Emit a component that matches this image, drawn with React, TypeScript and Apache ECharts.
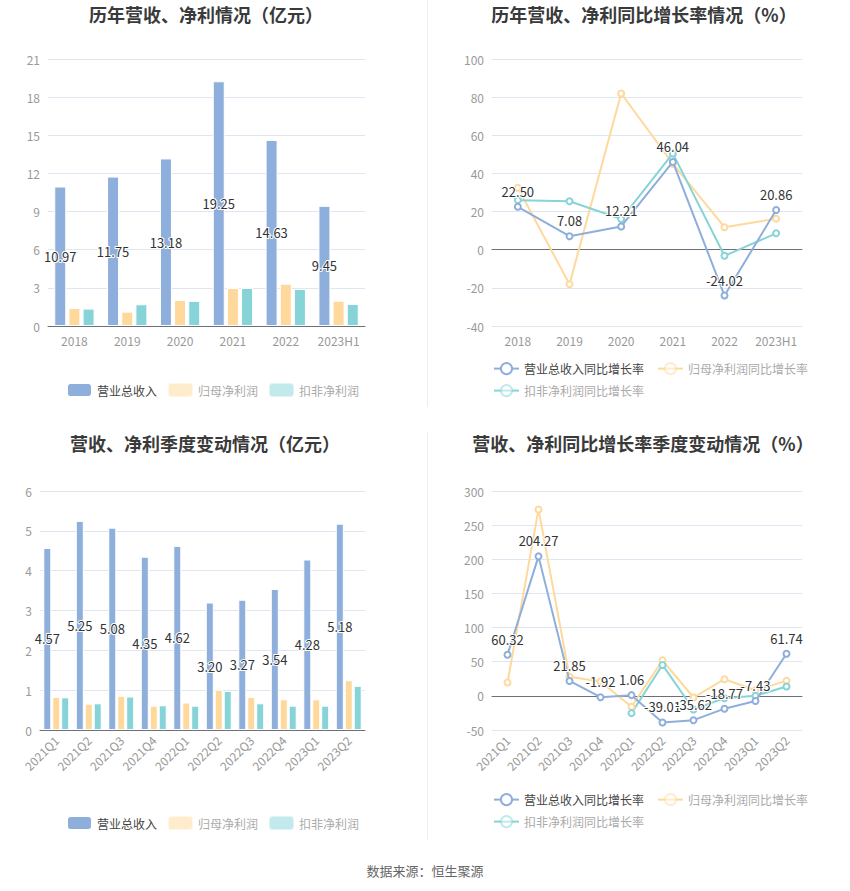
import React, { useEffect, useRef } from "react";
import * as echarts from "echarts";

const yearCats = ["2018", "2019", "2020", "2021", "2022", "2023H1"];
const yearRevenue = [10.97, 11.75, 13.18, 19.25, 14.63, 9.45];
const yearNetProfit = [1.42, 1.13, 2.05, 2.99, 3.33, 1.99];
const yearDeducted = [1.37, 1.71, 1.97, 2.99, 2.91, 1.73];

const yearRevenueGrowth = [22.5, 7.08, 12.21, 46.04, -24.02, 20.86];
const yearNetProfitGrowth = [32.5, -18.1, 81.9, 45.1, 11.8, 16.3];
const yearDeductedGrowth = [26.0, 25.4, 16.1, 50.5, -3.2, 8.6];

const quarterCats = ["2021Q1", "2021Q2", "2021Q3", "2021Q4", "2022Q1", "2022Q2", "2022Q3", "2022Q4", "2023Q1", "2023Q2"];
const quarterRevenue = [4.57, 5.25, 5.08, 4.35, 4.62, 3.2, 3.27, 3.54, 4.28, 5.18];
const quarterNetProfit = [0.83, 0.66, 0.86, 0.61, 0.69, 1.01, 0.83, 0.77, 0.77, 1.25];
const quarterDeducted = [0.82, 0.67, 0.84, 0.62, 0.61, 0.98, 0.67, 0.61, 0.61, 1.11];

const quarterRevenueGrowth = [60.32, 204.27, 21.85, -1.92, 1.06, -39.01, -35.62, -18.77, -7.43, 61.74];
const quarterNetProfitGrowth = [19.5, 273, 28, 21, -16, 52, -2.4, 24.4, 8.3, 22];
const quarterDeductedGrowth = [null, null, null, null, -25.3, 45.3, -20, -3.4, 0, 13.6];

const titles = [
  "历年营收、净利情况（亿元）",
  "历年营收、净利同比增长率情况（%）",
  "营收、净利季度变动情况（亿元）",
  "营收、净利同比增长率季度变动情况（%）",
];
const barNames = ["营业总收入", "归母净利润", "扣非净利润"];
const lineNames = ["营业总收入同比增长率", "归母净利润同比增长率", "扣非净利润同比增长率"];
const sourceText = "数据来源：恒生聚源";

const BLUE = "#8eaedc";
const ORANGE = "#ffd99c";
const TEAL = "#86d4d7";
const FONT = "'Noto Sans CJK SC', 'Noto Sans', sans-serif";

export default function App() {
  const ref = useRef<HTMLDivElement>(null);
  useEffect(() => {
    if (!ref.current) return;
    const chart = echarts.init(ref.current, null, { renderer: "svg" });

    const labelStyle = {
      color: "#333",
      fontSize: 13,
      textBorderColor: "#fff",
      textBorderWidth: 2,
    };

    const yAxisBase = (gridIndex: number, min: number, max: number, interval: number) => ({
      type: "value",
      gridIndex,
      min,
      max,
      interval,
      axisLine: { show: false },
      axisTick: { show: false },
      axisLabel: { color: "#999", fontSize: 12, fontFamily: FONT },
      splitLine: { lineStyle: { color: "#e0e6f1" } },
    });
    const xAxisBase = (gridIndex: number, data: string[], rotate: number) => ({
      type: "category",
      gridIndex,
      data,
      axisLine: { lineStyle: { color: "#6e7079" } },
      axisTick: { alignWithLabel: true, lineStyle: { color: "#6e7079" } },
      axisLabel: { color: "#999", fontSize: 12, rotate, interval: 0, fontFamily: FONT },
    });

    const barSeries = (xi: number, data: number[][], bw: number, gap: string) =>
      data.map((d, i) => ({
        type: "bar",
        name: barNames[i],
        xAxisIndex: xi,
        yAxisIndex: xi,
        data: d,
        barWidth: bw,
        barGap: gap,
        itemStyle: { color: [BLUE, ORANGE, TEAL][i], borderColor: "#fff", borderWidth: 1 },
        label: i === 0 ? { show: true, position: "inside", formatter: (p: any) => p.value.toFixed(2), ...labelStyle } : { show: false },
      }));

    const lineSeries = (xi: number, data: (number | null)[][]) =>
      data.map((d, i) => ({
        type: "line",
        name: lineNames[i],
        xAxisIndex: xi,
        yAxisIndex: xi,
        data: d,
        symbol: "emptyCircle",
        symbolSize: 6,
        connectNulls: false,
        lineStyle: { width: 2, color: [BLUE, ORANGE, TEAL][i] },
        itemStyle: { color: [BLUE, ORANGE, TEAL][i] },
        z: i === 0 ? 5 : 3,
        label: i === 0 ? { show: true, position: "top", formatter: (p: any) => p.value.toFixed(2), ...labelStyle } : { show: false },
      }));

    const legendItem = (name: string, i: number) => ({
      name,
      itemStyle: { opacity: i === 0 ? 1 : 0.5 },
      textStyle: { color: i === 0 ? "#444" : "#aaa" },
    });

    const barLegend = (top: number) => ({
      left: 61,
      top,
      itemWidth: 25,
      itemHeight: 14,
      itemGap: 10,
      icon: "roundRect",
      textStyle: { fontSize: 12, fontFamily: FONT },
      data: barNames.map(legendItem),
    });
    const lineLegends = (top: number) => [
      {
        left: 488,
        top,
        itemWidth: 25,
        itemHeight: 14,
        itemGap: 13,
        textStyle: { fontSize: 12, fontFamily: FONT },
        data: [legendItem(lineNames[0], 0), legendItem(lineNames[1], 1)],
      },
      {
        left: 488,
        top: top + 22,
        itemWidth: 25,
        itemHeight: 14,
        textStyle: { fontSize: 12, fontFamily: FONT },
        data: [legendItem(lineNames[2], 2)],
      },
    ];

    const titleText = (text: string, x: number, y: number) => ({
      type: "text",
      x,
      y,
      style: {
        text,
        fill: "#3a3a3a",
        font: `bold 18px ${FONT}`,
        textAlign: "center",
        textVerticalAlign: "middle",
      },
    });

    chart.setOption({
      animation: false,
      textStyle: { fontFamily: FONT },
      grid: [
        { left: 48, right: 485, top: 59, height: 267 },
        { left: 492, right: 48, top: 59, height: 267 },
        { left: 40, right: 485, top: 491, height: 239 },
        { left: 492, right: 48, top: 491, height: 239 },
      ],
      xAxis: [
        xAxisBase(0, yearCats, 0),
        xAxisBase(1, yearCats, 0),
        xAxisBase(2, quarterCats, 45),
        xAxisBase(3, quarterCats, 45),
      ],
      yAxis: [
        yAxisBase(0, 0, 21, 3),
        yAxisBase(1, -40, 100, 20),
        yAxisBase(2, 0, 6, 1),
        yAxisBase(3, -50, 300, 50),
      ],
      legend: [barLegend(377), ...lineLegends(357), barLegend(810), ...lineLegends(788)],
      series: [
        ...barSeries(0, [yearRevenue, yearNetProfit, yearDeducted], 12, "18%"),
        ...lineSeries(1, [yearRevenueGrowth, yearNetProfitGrowth, yearDeductedGrowth]),
        ...barSeries(2, [quarterRevenue, quarterNetProfit, quarterDeducted], 8, "12%"),
        ...lineSeries(3, [quarterRevenueGrowth, quarterNetProfitGrowth, quarterDeductedGrowth]),
      ],
      graphic: [
        titleText(titles[0], 206, 14),
        titleText(titles[1], 644, 14),
        titleText(titles[2], 205, 443),
        titleText(titles[3], 643, 443),
        { type: "line", shape: { x1: 427.5, y1: 0, x2: 427.5, y2: 407 }, style: { stroke: "#eee", lineWidth: 1 } },
        { type: "line", shape: { x1: 427.5, y1: 432, x2: 427.5, y2: 840 }, style: { stroke: "#eee", lineWidth: 1 } },
        {
          type: "text",
          x: 425,
          y: 870,
          style: { text: sourceText, fill: "#666", font: `13px ${FONT}`, textAlign: "center", textVerticalAlign: "middle" },
        },
      ],
    });
    return () => chart.dispose();
  }, []);
  return <div ref={ref} style={{ position: "absolute", left: 0, top: 0, width: 850, height: 891, background: "#fff" }} />;
}
